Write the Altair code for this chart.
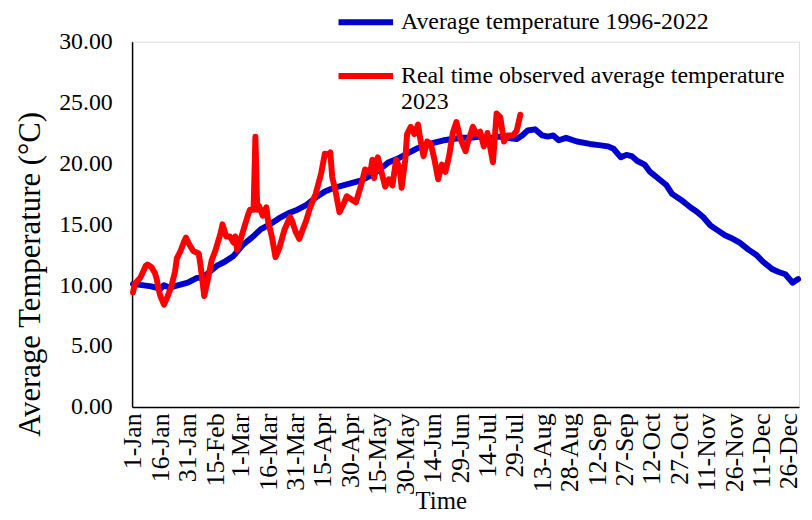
import altair as alt
import pandas as pd

# ---- data ----
legend_lines = [["Average temperature 1996-2022"],
                ["Real time observed average temperature", "2023"]]
series_names = [" ".join(l) for l in legend_lines]
series_colors = ["#0000CC", "#FF0000"]

tick_days = [0, 15, 30, 45, 59, 74, 89, 104, 119, 134, 149, 164, 179, 194, 209,
             224, 239, 254, 269, 284, 299, 314, 329, 344, 359]
tick_labels = ["1-Jan", "16-Jan", "31-Jan", "15-Feb", "1-Mar", "16-Mar", "31-Mar",
               "15-Apr", "30-Apr", "15-May", "30-May", "14-Jun", "29-Jun", "14-Jul",
               "29-Jul", "13-Aug", "28-Aug", "12-Sep", "27-Sep", "12-Oct", "27-Oct",
               "11-Nov", "26-Nov", "11-Dec", "26-Dec"]

avg_days = [0, 5, 10, 15, 17, 20, 25, 30, 35, 38, 42, 46, 50, 55, 60, 65, 70, 75, 80,
            85, 90, 95, 100, 105, 110, 115, 120, 125, 130, 135, 140, 145, 150, 155,
            160, 165, 170, 175, 180, 185, 190, 195, 200, 205, 210, 213, 216, 220, 224,
            227, 230, 233, 237, 243, 250, 255, 260, 263, 267, 270, 273, 276, 280, 283,
            288, 292, 295, 300, 305, 308, 312, 316, 320, 324, 327, 332, 337, 341, 345,
            350, 353, 357, 361, 364]
avg_temp = [10.1, 10.0, 9.9, 9.7, 10.0, 9.8, 10.0, 10.2, 10.6, 10.6, 11.1, 11.6, 11.9,
            12.4, 13.3, 13.9, 14.6, 15.0, 15.5, 15.9, 16.2, 16.6, 17.2, 17.7, 18.0,
            18.2, 18.4, 18.6, 19.0, 19.5, 20.1, 20.4, 20.8, 21.2, 21.5, 21.7, 21.9,
            22.0, 22.1, 22.1, 22.2, 22.1, 22.2, 22.1, 22.0, 22.3, 22.7, 22.8, 22.3,
            22.2, 22.3, 21.9, 22.1, 21.8, 21.6, 21.5, 21.4, 21.2, 20.5, 20.7, 20.6,
            20.2, 19.9, 19.3, 18.7, 18.2, 17.5, 17.0, 16.4, 16.1, 15.6, 14.9, 14.5,
            14.1, 13.9, 13.5, 12.9, 12.5, 11.9, 11.3, 11.1, 10.9, 10.2, 10.5]

obs_days = [0, 1, 4, 7, 8, 10, 12, 13, 14, 15, 17, 19, 21, 23, 24, 26, 28, 29, 31, 33,
            36, 37, 39, 41, 43, 45, 48, 49, 51, 53, 55, 56, 57, 59, 61, 63, 64, 66, 67,
            68, 69, 71, 73, 74, 75, 76, 78, 80, 83, 86, 87, 89, 91, 93, 95, 97, 100,
            103, 105, 107, 108, 109, 111, 113, 115, 117, 120, 122, 125, 127, 130, 131,
            132, 134, 136, 138, 140, 142, 144, 146, 147, 149, 150, 152, 154, 156, 157,
            159, 161, 163, 165, 167, 169, 171, 173, 175, 177, 179, 182, 183, 186, 188,
            190, 192, 194, 197, 199, 201, 203, 205, 208, 210, 212]
obs_temp = [9.4, 10.1, 10.6, 11.6, 11.7, 11.5, 11.0, 10.5, 9.7, 9.1, 8.4, 9.1, 9.9,
            11.1, 12.2, 12.8, 13.6, 13.9, 13.3, 12.8, 12.6, 11.6, 9.1, 10.5, 12.0, 12.8,
            14.3, 15.0, 14.0, 14.0, 13.5, 14.0, 12.9, 13.8, 14.8, 15.8, 16.2, 16.2,
            22.2, 16.2, 16.5, 15.7, 16.4, 15.2, 14.6, 14.0, 12.3, 13.0, 14.6, 15.6,
            15.3, 14.4, 13.8, 14.6, 15.4, 16.4, 17.5, 19.2, 20.8, 20.7, 20.9, 18.9,
            17.6, 16.0, 16.6, 17.3, 17.0, 16.8, 18.3, 19.5, 19.3, 20.3, 18.8, 20.5,
            19.3, 18.1, 18.7, 18.2, 20.3, 19.6, 18.0, 20.3, 22.4, 23.0, 22.4, 23.2,
            22.2, 20.6, 21.8, 21.6, 20.3, 18.7, 19.9, 19.3, 20.6, 22.5, 23.4, 22.1,
            21.0, 21.6, 23.0, 22.4, 22.6, 21.4, 22.5, 20.1, 24.1, 23.8, 21.8, 22.3,
            22.3, 22.7, 24.0]

df = pd.concat([
    pd.DataFrame({"day": avg_days, "temp": avg_temp, "series": series_names[0]}),
    pd.DataFrame({"day": obs_days, "temp": obs_temp, "series": series_names[1]}),
])

FONT = "Liberation Serif"

label_expr_x = "[" + ",".join("'%s'" % t for t in tick_labels) + "][indexof(" + \
    "[" + ",".join(str(d) for d in tick_days) + "], datum.value)]"
legend_expr = " : ".join(
    "datum.label == '%s' ? [%s]" % (n, ",".join("'%s'" % s for s in l))
    for n, l in zip(series_names, legend_lines)) + " : datum.label"

x_enc = alt.X("day:Q",
              scale=alt.Scale(domain=[-0.5, 364.5], nice=False, zero=False),
              axis=alt.Axis(values=tick_days, labelExpr=label_expr_x, labelAngle=270,
                            labelAlign="right", labelBaseline="middle",
                            labelFont=FONT, labelFontSize=26, labelColor="black",
                            labelPadding=6, ticks=False, grid=False,
                            domainColor="black", domainWidth=1.5,
                            title="Time", titleFont=FONT, titleFontSize=25,
                            titleFontWeight="normal", titleColor="black",
                            titleX=311, titleY=94, titleBaseline="middle",
                            titleAlign="center", labelOverlap=False))
y_enc = alt.Y("temp:Q",
              scale=alt.Scale(domain=[0, 30], nice=False),
              axis=alt.Axis(values=[0, 5, 10, 15, 20, 25, 30], format=".2f",
                            labelFont=FONT, labelFontSize=24, labelColor="black",
                            labelPadding=20, ticks=False, grid=False,
                            domainColor="black", domainWidth=1.5,
                            title="Average Temperature (°C)", titleFont=FONT,
                            titleFontSize=31, titleFontWeight="normal",
                            titleColor="black", titleAngle=270, titleX=-102,
                            titleY=234, titleAlign="center",
                            titleBaseline="middle"))
color_enc = alt.Color("series:N",
                      scale=alt.Scale(domain=series_names, range=series_colors),
                      legend=alt.Legend(orient="none", legendX=205, legendY=-50,
                                        direction="vertical", title=None,
                                        symbolType="stroke", symbolSize=3025,
                                        symbolStrokeWidth=6, labelFont=FONT,
                                        labelFontSize=24, labelColor="black",
                                        labelLimit=1000, labelOffset=5,
                                        rowPadding=11, labelExpr=legend_expr))

base = alt.Chart(df)
layers = [
    base.transform_filter(alt.datum.series == n)
        .mark_line(strokeWidth=6, strokeJoin="round", strokeCap="round")
        .encode(x=x_enc, y=y_enc, color=color_enc)
    for n in series_names
]

chart = alt.layer(*layers).properties(
    width=672, height=368,
    autosize=alt.AutoSizeParams(type="none"),
    padding={"left": 125, "top": 32, "right": 5, "bottom": 110},
).configure_view(stroke=None).configure(background="white")

chart.save("out.html", embed_options={"renderer": "svg", "actions": False})
